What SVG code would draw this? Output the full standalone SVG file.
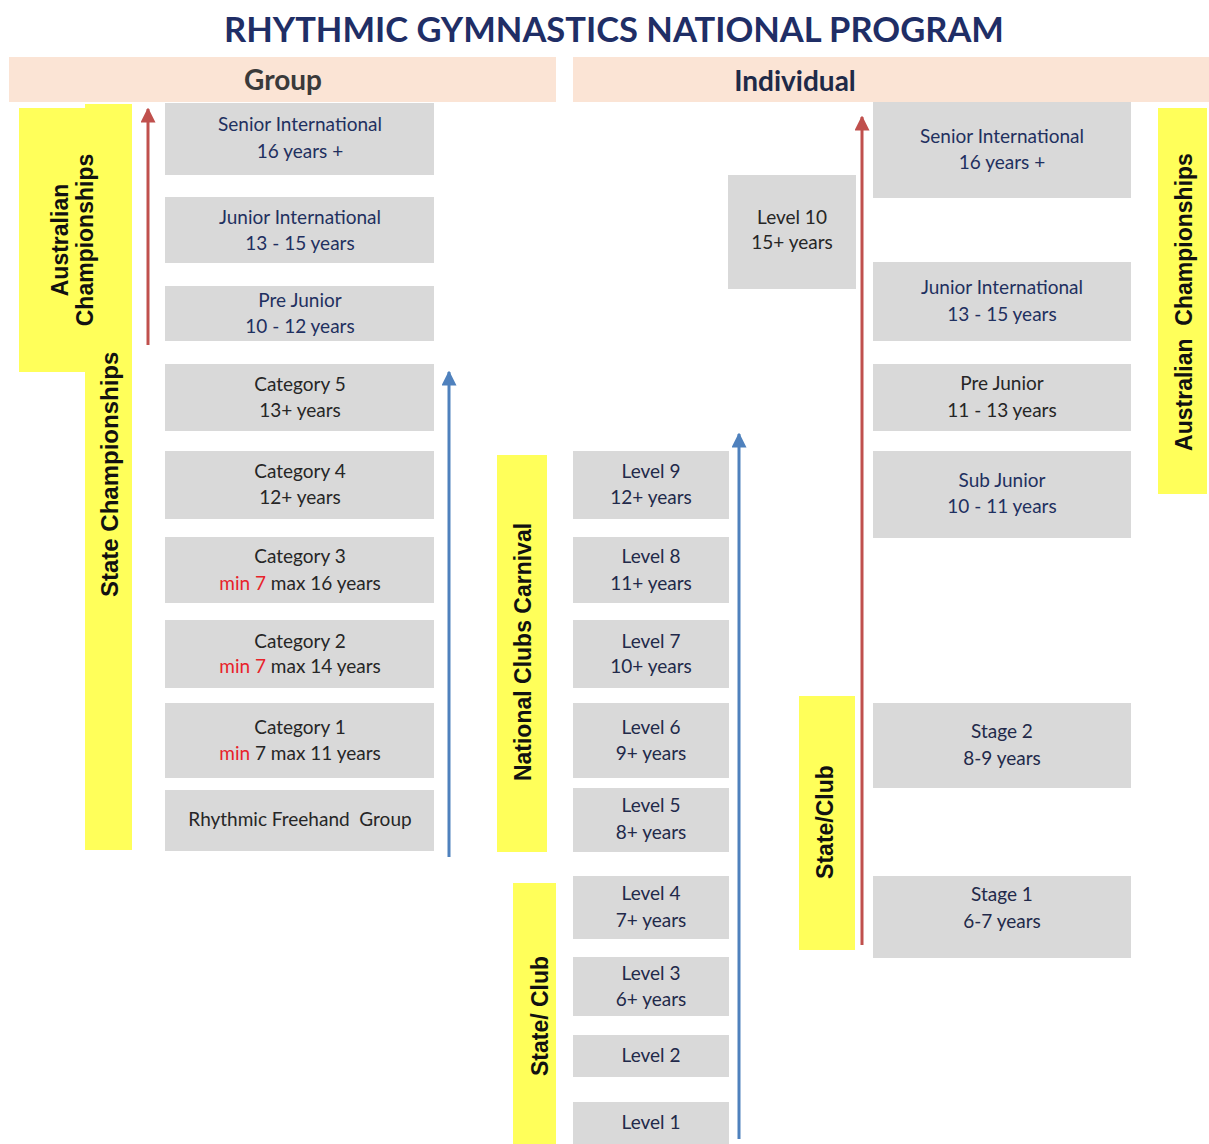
<svg xmlns="http://www.w3.org/2000/svg" width="1209" height="1144" viewBox="0 0 1209 1144">
<defs>
<style>
.box{fill:#D9D9D9}
.hdr{fill:#FBE4D5}
.yel{fill:#FFFF5A}
.t{font-family:Lato,"Liberation Sans",sans-serif;font-size:19px;text-anchor:middle}
.navy{fill:#1F3060}
.dark{fill:#262626}
.lvl{fill:#22294A}
.red{fill:#E8222A}
.yl{font-family:"Liberation Sans",Arial,sans-serif;font-weight:bold;font-size:23px;fill:#111;text-anchor:middle}
.yls{font-family:"Liberation Sans",Arial,sans-serif;font-weight:bold;font-size:24px;fill:#111;text-anchor:start}
.ht{font-family:Lato,"Liberation Sans",sans-serif;font-weight:bold;font-size:28px;text-anchor:middle}
</style>
<marker id="ar" viewBox="0 0 10 10" refX="9" refY="5" markerWidth="5" markerHeight="5" orient="auto" markerUnits="strokeWidth">
<path d="M0,0 L10,5 L0,10 z" fill="#C0504D"/>
</marker>
<marker id="ab" viewBox="0 0 10 10" refX="9" refY="5" markerWidth="5" markerHeight="5" orient="auto" markerUnits="strokeWidth">
<path d="M0,0 L10,5 L0,10 z" fill="#4F81BD"/>
</marker>
</defs>
<rect width="1209" height="1144" fill="#FFFFFF"/>

<g id="title">
<text x="614" y="42" font-family="Lato,'Liberation Sans',sans-serif" font-weight="bold" font-size="34.5" fill="#1F2E66" text-anchor="middle">RHYTHMIC GYMNASTICS NATIONAL PROGRAM</text>
</g>

<g id="hdr-group">
<rect class="hdr" x="9" y="57" width="547" height="45"/>
<text class="ht" x="283" y="90" fill="#3A3A3A">Group</text>
</g>
<g id="hdr-individual">
<rect class="hdr" x="573" y="57" width="636" height="45"/>
<text class="ht" x="795" y="91" fill="#1F2A48">Individual</text>
</g>

<g id="lbl-state-champ">
<rect class="yel" x="85" y="104" width="47" height="746"/>
<text class="yls" transform="rotate(-90 118 597)" x="118" y="597">State Championships</text>
</g>
<g id="lbl-aus-champ-left">
<rect class="yel" x="19" y="108" width="66" height="264"/>
<rect class="yel" x="85" y="104" width="47" height="241"/>
<text class="yl" transform="rotate(-90 68 240)" x="68" y="240">Australian</text>
<text class="yl" transform="rotate(-90 93 240)" x="93" y="240">Championships</text>
</g>

<g id="lbl-national-clubs">
<rect class="yel" x="497" y="455" width="50" height="397"/>
<text class="yl" transform="rotate(-90 531 652)" x="531" y="652">National Clubs Carnival</text>
</g>
<g id="lbl-state-club-mid">
<rect class="yel" x="513" y="883" width="43" height="261"/>
<text class="yl" transform="rotate(-90 548 1016)" x="548" y="1016">State/ Club</text>
</g>
<g id="lbl-state-club-right">
<rect class="yel" x="799" y="696" width="56" height="254"/>
<text class="yl" transform="rotate(-90 833 822)" x="833" y="822">State/Club</text>
</g>
<g id="lbl-aus-champ-right">
<rect class="yel" x="1158" y="108" width="49" height="386"/>
<text class="yl" transform="rotate(-90 1192 302)" x="1192" y="302" xml:space="preserve">Australian  Championships</text>
</g>

<!-- Group column -->
<g id="g-senior">
<rect class="box" x="165" y="103" width="269" height="72"/>
<text class="t navy" x="300" y="131">Senior International</text>
<text class="t navy" x="300" y="158">16 years +</text>
</g>
<g id="g-junior">
<rect class="box" x="165" y="197" width="269" height="66"/>
<text class="t navy" x="300" y="224">Junior International</text>
<text class="t navy" x="300" y="250">13 - 15 years</text>
</g>
<g id="g-prejunior">
<rect class="box" x="165" y="286" width="269" height="55"/>
<text class="t navy" x="300" y="307">Pre Junior</text>
<text class="t navy" x="300" y="333">10 - 12 years</text>
</g>
<g id="g-cat5">
<rect class="box" x="165" y="364" width="269" height="67"/>
<text class="t dark" x="300" y="391">Category 5</text>
<text class="t dark" x="300" y="417">13+ years</text>
</g>
<g id="g-cat4">
<rect class="box" x="165" y="451" width="269" height="68"/>
<text class="t dark" x="300" y="478">Category 4</text>
<text class="t dark" x="300" y="504">12+ years</text>
</g>
<g id="g-cat3">
<rect class="box" x="165" y="537" width="269" height="66"/>
<text class="t dark" x="300" y="563">Category 3</text>
<text class="t dark" x="300" y="590"><tspan class="red">min 7</tspan> max 16 years</text>
</g>
<g id="g-cat2">
<rect class="box" x="165" y="620" width="269" height="68"/>
<text class="t dark" x="300" y="648">Category 2</text>
<text class="t dark" x="300" y="673"><tspan class="red">min 7</tspan> max 14 years</text>
</g>
<g id="g-cat1">
<rect class="box" x="165" y="703" width="269" height="75"/>
<text class="t dark" x="300" y="734">Category 1</text>
<text class="t dark" x="300" y="760"><tspan class="red">min</tspan> 7 max 11 years</text>
</g>
<g id="g-freehand">
<rect class="box" x="165" y="790" width="269" height="61"/>
<text class="t dark" x="300" y="826" xml:space="preserve">Rhythmic Freehand  Group</text>
</g>

<!-- Levels column -->
<g id="lvl10">
<rect class="box" x="728" y="175" width="128" height="114"/>
<text class="t dark" x="792" y="224">Level 10</text>
<text class="t dark" x="792" y="249">15+ years</text>
</g>
<g id="lvl9">
<rect class="box" x="573" y="451" width="156" height="68"/>
<text class="t lvl" x="651" y="478">Level 9</text>
<text class="t lvl" x="651" y="504">12+ years</text>
</g>
<g id="lvl8">
<rect class="box" x="573" y="537" width="156" height="66"/>
<text class="t lvl" x="651" y="563">Level 8</text>
<text class="t lvl" x="651" y="590">11+ years</text>
</g>
<g id="lvl7">
<rect class="box" x="573" y="620" width="156" height="68"/>
<text class="t lvl" x="651" y="648">Level 7</text>
<text class="t lvl" x="651" y="673">10+ years</text>
</g>
<g id="lvl6">
<rect class="box" x="573" y="703" width="156" height="75"/>
<text class="t lvl" x="651" y="734">Level 6</text>
<text class="t lvl" x="651" y="760">9+ years</text>
</g>
<g id="lvl5">
<rect class="box" x="573" y="788" width="156" height="64"/>
<text class="t lvl" x="651" y="812">Level 5</text>
<text class="t lvl" x="651" y="839">8+ years</text>
</g>
<g id="lvl4">
<rect class="box" x="573" y="876" width="156" height="63"/>
<text class="t lvl" x="651" y="900">Level 4</text>
<text class="t lvl" x="651" y="927">7+ years</text>
</g>
<g id="lvl3">
<rect class="box" x="573" y="957" width="156" height="59"/>
<text class="t lvl" x="651" y="980">Level 3</text>
<text class="t lvl" x="651" y="1006">6+ years</text>
</g>
<g id="lvl2">
<rect class="box" x="573" y="1035" width="156" height="42"/>
<text class="t lvl" x="651" y="1062">Level 2</text>
</g>
<g id="lvl1">
<rect class="box" x="573" y="1102" width="156" height="42"/>
<text class="t lvl" x="651" y="1129">Level 1</text>
</g>

<!-- Individual right column -->
<g id="i-senior">
<rect class="box" x="873" y="102" width="258" height="96"/>
<text class="t navy" x="1002" y="143">Senior International</text>
<text class="t navy" x="1002" y="169">16 years +</text>
</g>
<g id="i-junior">
<rect class="box" x="873" y="262" width="258" height="79"/>
<text class="t navy" x="1002" y="294">Junior International</text>
<text class="t navy" x="1002" y="321">13 - 15 years</text>
</g>
<g id="i-prejunior">
<rect class="box" x="873" y="364" width="258" height="67"/>
<text class="t dark" x="1002" y="390">Pre Junior</text>
<text class="t dark" x="1002" y="417">11 - 13 years</text>
</g>
<g id="i-subjunior">
<rect class="box" x="873" y="451" width="258" height="87"/>
<text class="t navy" x="1002" y="487">Sub Junior</text>
<text class="t navy" x="1002" y="513">10 - 11 years</text>
</g>
<g id="i-stage2">
<rect class="box" x="873" y="703" width="258" height="85"/>
<text class="t lvl" x="1002" y="738">Stage 2</text>
<text class="t lvl" x="1002" y="765">8-9 years</text>
</g>
<g id="i-stage1">
<rect class="box" x="873" y="876" width="258" height="82"/>
<text class="t lvl" x="1002" y="901">Stage 1</text>
<text class="t lvl" x="1002" y="928">6-7 years</text>
</g>

<g id="connectors" fill="none" stroke-width="3">
<line x1="148" y1="345" x2="148" y2="109" stroke="#C0504D" marker-end="url(#ar)"/>
<line x1="449" y1="857" x2="449" y2="372" stroke="#4F81BD" marker-end="url(#ab)"/>
<line x1="739" y1="1139" x2="739" y2="434" stroke="#4F81BD" marker-end="url(#ab)"/>
<line x1="862" y1="945" x2="862" y2="117" stroke="#C0504D" marker-end="url(#ar)"/>
</g>
</svg>
